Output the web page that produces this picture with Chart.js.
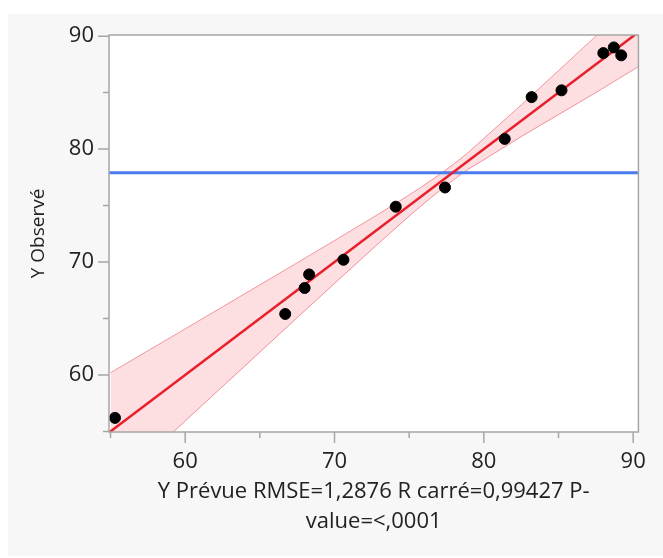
<!DOCTYPE html>
<html>
<head>
<meta charset="utf-8">
<script src="https://cdn.jsdelivr.net/npm/chart.js@4"></script>
<style>
  html, body { margin: 0; padding: 0; background: #fff; }
  #wrap { width: 663px; height: 558px; position: relative; }
</style>
</head>
<body>
<div id="wrap"><canvas id="chart"></canvas></div>
<script>
const predY = [55.3, 66.7, 68.0, 68.3, 70.6, 74.1, 77.4, 81.4, 83.2, 85.2, 88.0, 88.7, 89.2];
const obsY  = [56.2, 65.4, 67.7, 68.9, 70.2, 74.9, 76.6, 80.9, 84.6, 85.2, 88.5, 89.0, 88.3];

// fit line (y = x) and mean of Y
const fitX = [54.9, 90.35];
const fitY = [54.9, 90.35];
const meanY = 77.9;

// confidence band
const bandX     = [55, 57.5, 60, 62.5, 65, 67.5, 70, 72.5, 75, 76.5, 77.8, 79, 80, 82.5, 85, 87.5, 90.35];
const bandUpper = [60.2, 62.14, 64.08, 66.03, 67.98, 69.93, 71.9, 73.89, 75.94, 77.26, 78.5, 79.75, 80.95, 83.9, 86.95, 90.0, 93.4];
const bandLower = [49.8, 52.86, 55.92, 58.97, 62.02, 65.07, 68.1, 71.11, 74.06, 75.74, 77.1, 78.25, 79.05, 81.1, 83.05, 85.0, 87.3];

const xMin = 54.9, xMax = 90.35, yMin = 54.95, yMax = 90.1;

const FONT = "'Open Sans', 'Noto Sans', sans-serif";
const TEXT = '#222';

const pts = predY.map((x, i) => ({ x: x, y: obsY[i] }));
const fitPts = fitX.map((x, i) => ({ x: x, y: fitY[i] }));
const meanPts = [{ x: xMin, y: meanY }, { x: xMax, y: meanY }];
const upPts = bandX.map((x, i) => ({ x: x, y: bandUpper[i] }));
const loPts = bandX.map((x, i) => ({ x: x, y: bandLower[i] }));

// panel background, plot frame and tick marks
const framePlugin = {
    id: 'frame',
    beforeDraw(chart) {
        const ctx = chart.ctx;
        const a = chart.chartArea;
        ctx.save();
        ctx.fillStyle = '#fff';
        ctx.fillRect(0, 0, chart.width, chart.height);
        ctx.fillStyle = '#f7f7f7';
        ctx.fillRect(8, 14, chart.width - 8, 542);
        ctx.fillStyle = '#fff';
        ctx.fillRect(a.left, a.top, a.right - a.left, a.bottom - a.top);
        ctx.restore();
    },
    afterDraw(chart) {
        const ctx = chart.ctx;
        const a = chart.chartArea;
        const xs = chart.scales.x, ys = chart.scales.y;
        ctx.save();
        ctx.strokeStyle = '#a6a6a6';
        ctx.lineWidth = 1.5;
        ctx.strokeRect(a.left, a.top, a.right - a.left, a.bottom - a.top);
        ctx.beginPath();
        xs.ticks.forEach(t => {
            const px = xs.getPixelForValue(t.value);
            const len = t.value % 10 === 0 ? 11 : 6;
            ctx.moveTo(px, a.bottom);
            ctx.lineTo(px, a.bottom + len);
        });
        ys.ticks.forEach(t => {
            const py = ys.getPixelForValue(t.value);
            const len = t.value % 10 === 0 ? 11 : 6;
            ctx.moveTo(a.left, py);
            ctx.lineTo(a.left - len, py);
        });
        ctx.stroke();
        ctx.restore();
    }
};

new Chart(document.getElementById('chart'), {
    type: 'scatter',
    data: {
        datasets: [
            {
                data: pts,
                backgroundColor: '#000',
                borderColor: '#000',
                pointRadius: 5.5,
                pointHoverRadius: 5.5
            },
            {
                type: 'line',
                data: fitPts,
                borderColor: '#e8202c',
                borderWidth: 2.5,
                pointRadius: 0,
                fill: false
            },
            {
                type: 'line',
                data: meanPts,
                borderColor: '#4a7cf0',
                borderWidth: 3,
                pointRadius: 0,
                fill: false
            },
            {
                type: 'line',
                data: upPts,
                borderColor: 'rgba(236, 120, 132, 0.75)',
                borderWidth: 1,
                backgroundColor: 'rgba(245, 60, 80, 0.17)',
                pointRadius: 0,
                cubicInterpolationMode: 'monotone',
                fill: '+1'
            },
            {
                type: 'line',
                data: loPts,
                borderColor: 'rgba(236, 120, 132, 0.75)',
                borderWidth: 1,
                pointRadius: 0,
                cubicInterpolationMode: 'monotone',
                fill: false
            }
        ]
    },
    options: {
        responsive: true,
        maintainAspectRatio: false,
        animation: false,
        events: [],
        layout: { padding: { left: 0, top: 35, right: 24, bottom: 0 } },
        plugins: {
            legend: { display: false },
            tooltip: { enabled: false }
        },
        scales: {
            x: {
                type: 'linear',
                min: xMin,
                max: xMax,
                afterFit: s => { s.height = 126; },
                grid: { display: false, drawTicks: false },
                border: { display: false },
                ticks: {
                    stepSize: 5,
                    includeBounds: false,
                    autoSkip: false,
                    maxRotation: 0,
                    padding: 17,
                    color: TEXT,
                    font: { family: FONT, size: 22 },
                    callback: v => (v % 10 === 0 ? String(v) : '')
                },
                title: {
                    display: true,
                    text: ['Y Prévue RMSE=1,2876 R carré=0,99427 P-', 'value=<,0001'],
                    color: TEXT,
                    font: { family: FONT, size: 22, lineHeight: 1.37 },
                    padding: { top: 0, bottom: 21 }
                }
            },
            y: {
                type: 'linear',
                min: yMin,
                max: yMax,
                afterFit: s => { s.width = 109; },
                grid: { display: false, drawTicks: false },
                border: { display: false },
                ticks: {
                    stepSize: 5,
                    includeBounds: false,
                    autoSkip: false,
                    padding: 15,
                    color: TEXT,
                    font: { family: FONT, size: 22 },
                    callback: v => (v % 10 === 0 ? String(v) : '')
                },
                title: {
                    display: true,
                    text: 'Y Observé',
                    color: TEXT,
                    font: { family: FONT, size: 19, lineHeight: 1.2 },
                    padding: { top: 27, bottom: 0 }
                }
            }
        }
    },
    plugins: [framePlugin]
});
</script>
</body>
</html>
